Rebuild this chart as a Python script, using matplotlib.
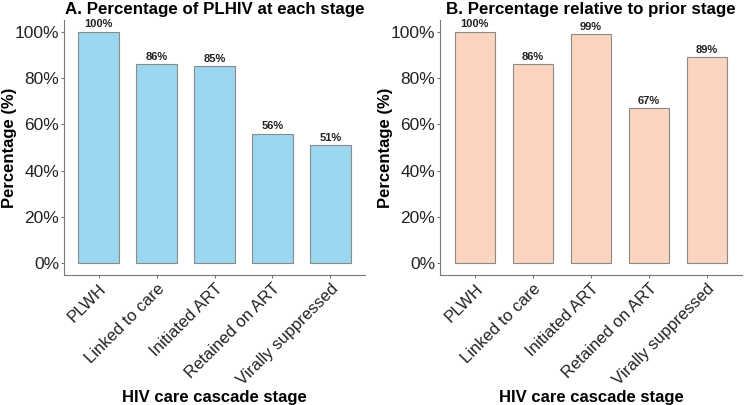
"""HIV care cascade: two panels of bar charts."""
import matplotlib.pyplot as plt
from matplotlib.ticker import PercentFormatter

plt.rcParams['font.family'] = ['Liberation Sans', 'DejaVu Sans']

stages = ['PLWH', 'Linked to care', 'Initiated ART', 'Retained on ART', 'Virally suppressed']
pct_of_plhiv = [100, 86, 85, 56, 51]
pct_of_prior = [100, 86, 99, 67, 89]


def draw_panel(ax, values, color, title):
    x = range(1, len(stages) + 1)
    ax.bar(x, values, width=0.7, color=color, edgecolor='#8a8a8a', linewidth=0.8)
    for i, v in zip(x, values):
        ax.text(i, v + 1.0, f'{v}%', ha='center', va='bottom', fontsize=8, fontweight='bold', color='#222222')
    ax.set_xlim(0.4, 5.6)
    ax.set_ylim(-5, 105)
    ax.set_yticks([0, 20, 40, 60, 80, 100])
    ax.yaxis.set_major_formatter(PercentFormatter(decimals=0))
    ax.set_xticks(list(x))
    ax.set_xticklabels(stages, rotation=45, ha='right', rotation_mode='anchor', fontsize=12, color='#222222')
    ax.tick_params(axis='y', labelsize=12.5, labelcolor='#222222', color='#777777', length=2.5, pad=1)
    ax.tick_params(axis='x', color='#777777', length=2.5, pad=2)
    for s in ['top', 'right']:
        ax.spines[s].set_visible(False)
    for s in ['left', 'bottom']:
        ax.spines[s].set_color('#777777')
    ax.set_title(title, fontsize=12.2, fontweight='bold', pad=4)
    ax.set_xlabel('HIV care cascade stage', fontsize=12, fontweight='bold', labelpad=1)
    ax.set_ylabel('Percentage (%)', fontsize=12, fontweight='bold')


fig = plt.figure(figsize=(7.44, 4.05), dpi=100)
ax1 = fig.add_axes([64 / 744, 1 - 275 / 405, 301 / 744, 255 / 405])
ax2 = fig.add_axes([440 / 744, 1 - 275 / 405, 302 / 744, 255 / 405])
draw_panel(ax1, pct_of_plhiv, '#9dd6f1', 'A. Percentage of PLHIV at each stage')
draw_panel(ax2, pct_of_prior, '#fbd5bd', 'B. Percentage relative to prior stage')
ax1.yaxis.set_label_coords(-47 / 301, 0.5)
ax2.yaxis.set_label_coords(-47 / 302, 0.5)
fig.savefig('out.png', dpi=100)
